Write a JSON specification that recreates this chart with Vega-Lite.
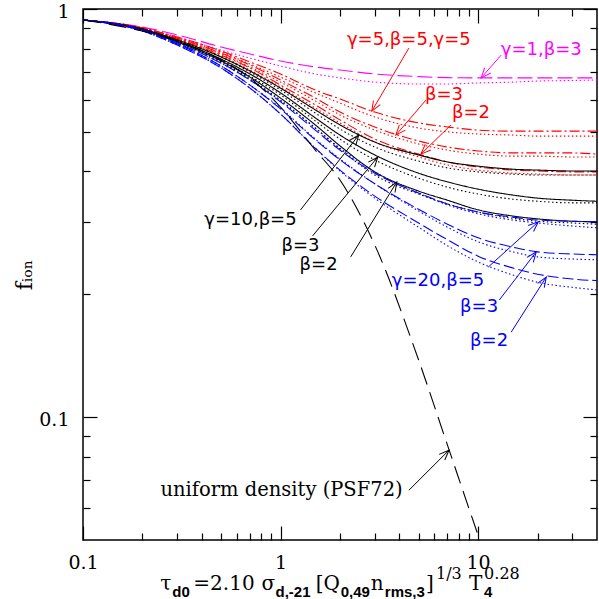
{
"$schema": "https://vega.github.io/schema/vega-lite/v6.json",
"width": 514, "height": 531,
"autosize": {"type": "none"},
"padding": {"left": 83, "top": 9, "right": 2, "bottom": 59},
"background": "white",
"view": {"stroke": "black", "strokeWidth": 1.5},
"config": {"axis": {"grid": false, "domain": false, "tickColor": "black", "tickWidth": 1.2, "labelColor": "black", "labelFont": "DejaVu Serif", "labelFontSize": 19, "labelFlush": false, "titleColor": "black"}},
"datasets": {
"curves": [
{"c":"g1a","g":"g1","t":0.1,"f":0.940},{"c":"g1a","g":"g1","t":0.2,"f":0.903},{"c":"g1a","g":"g1","t":0.3,"f":0.864},{"c":"g1a","g":"g1","t":0.5,"f":0.807},{"c":"g1a","g":"g1","t":0.7,"f":0.776},{"c":"g1a","g":"g1","t":1,"f":0.746},{"c":"g1a","g":"g1","t":1.5,"f":0.721},{"c":"g1a","g":"g1","t":2,"f":0.709},{"c":"g1a","g":"g1","t":3,"f":0.693},{"c":"g1a","g":"g1","t":5,"f":0.683},{"c":"g1a","g":"g1","t":7,"f":0.679},{"c":"g1a","g":"g1","t":10,"f":0.678},{"c":"g1a","g":"g1","t":15,"f":0.678},{"c":"g1a","g":"g1","t":20,"f":0.678},{"c":"g1a","g":"g1","t":30,"f":0.678},{"c":"g1a","g":"g1","t":40,"f":0.678},
{"c":"g1b","g":"g1","t":0.1,"f":0.940},{"c":"g1b","g":"g1","t":0.2,"f":0.898},{"c":"g1b","g":"g1","t":0.3,"f":0.854},{"c":"g1b","g":"g1","t":0.5,"f":0.793},{"c":"g1b","g":"g1","t":0.7,"f":0.758},{"c":"g1b","g":"g1","t":1,"f":0.725},{"c":"g1b","g":"g1","t":1.5,"f":0.693},{"c":"g1b","g":"g1","t":2,"f":0.678},{"c":"g1b","g":"g1","t":3,"f":0.662},{"c":"g1b","g":"g1","t":5,"f":0.655},{"c":"g1b","g":"g1","t":7,"f":0.655},{"c":"g1b","g":"g1","t":10,"f":0.659},{"c":"g1b","g":"g1","t":15,"f":0.662},{"c":"g1b","g":"g1","t":20,"f":0.666},{"c":"g1b","g":"g1","t":30,"f":0.668},{"c":"g1b","g":"g1","t":40,"f":0.670},
{"c":"g5b5a","g":"g5","t":0.1,"f":0.940},{"c":"g5b5a","g":"g5","t":0.2,"f":0.898},{"c":"g5b5a","g":"g5","t":0.3,"f":0.854},{"c":"g5b5a","g":"g5","t":0.5,"f":0.789},{"c":"g5b5a","g":"g5","t":0.7,"f":0.742},{"c":"g5b5a","g":"g5","t":1,"f":0.693},{"c":"g5b5a","g":"g5","t":1.5,"f":0.633},{"c":"g5b5a","g":"g5","t":2,"f":0.602},{"c":"g5b5a","g":"g5","t":3,"f":0.559},{"c":"g5b5a","g":"g5","t":5,"f":0.526},{"c":"g5b5a","g":"g5","t":7,"f":0.514},{"c":"g5b5a","g":"g5","t":10,"f":0.505},{"c":"g5b5a","g":"g5","t":15,"f":0.502},{"c":"g5b5a","g":"g5","t":20,"f":0.502},{"c":"g5b5a","g":"g5","t":30,"f":0.502},{"c":"g5b5a","g":"g5","t":40,"f":0.502},
{"c":"g5b5b","g":"g5","t":0.1,"f":0.940},{"c":"g5b5b","g":"g5","t":0.2,"f":0.898},{"c":"g5b5b","g":"g5","t":0.3,"f":0.849},{"c":"g5b5b","g":"g5","t":0.5,"f":0.785},{"c":"g5b5b","g":"g5","t":0.7,"f":0.733},{"c":"g5b5b","g":"g5","t":1,"f":0.681},{"c":"g5b5b","g":"g5","t":1.5,"f":0.623},{"c":"g5b5b","g":"g5","t":2,"f":0.588},{"c":"g5b5b","g":"g5","t":3,"f":0.544},{"c":"g5b5b","g":"g5","t":5,"f":0.511},{"c":"g5b5b","g":"g5","t":7,"f":0.500},{"c":"g5b5b","g":"g5","t":10,"f":0.494},{"c":"g5b5b","g":"g5","t":15,"f":0.491},{"c":"g5b5b","g":"g5","t":20,"f":0.488},{"c":"g5b5b","g":"g5","t":30,"f":0.488},{"c":"g5b5b","g":"g5","t":40,"f":0.488},
{"c":"g5b3a","g":"g5","t":0.1,"f":0.940},{"c":"g5b3a","g":"g5","t":0.2,"f":0.898},{"c":"g5b3a","g":"g5","t":0.3,"f":0.849},{"c":"g5b3a","g":"g5","t":0.5,"f":0.780},{"c":"g5b3a","g":"g5","t":0.7,"f":0.729},{"c":"g5b3a","g":"g5","t":1,"f":0.670},{"c":"g5b3a","g":"g5","t":1.5,"f":0.605},{"c":"g5b3a","g":"g5","t":2,"f":0.559},{"c":"g5b3a","g":"g5","t":3,"f":0.514},{"c":"g5b3a","g":"g5","t":5,"f":0.475},{"c":"g5b3a","g":"g5","t":7,"f":0.459},{"c":"g5b3a","g":"g5","t":10,"f":0.449},{"c":"g5b3a","g":"g5","t":15,"f":0.444},{"c":"g5b3a","g":"g5","t":20,"f":0.444},{"c":"g5b3a","g":"g5","t":30,"f":0.444},{"c":"g5b3a","g":"g5","t":40,"f":0.441},
{"c":"g5b3b","g":"g5","t":0.1,"f":0.940},{"c":"g5b3b","g":"g5","t":0.2,"f":0.898},{"c":"g5b3b","g":"g5","t":0.3,"f":0.844},{"c":"g5b3b","g":"g5","t":0.5,"f":0.776},{"c":"g5b3b","g":"g5","t":0.7,"f":0.721},{"c":"g5b3b","g":"g5","t":1,"f":0.662},{"c":"g5b3b","g":"g5","t":1.5,"f":0.595},{"c":"g5b3b","g":"g5","t":2,"f":0.550},{"c":"g5b3b","g":"g5","t":3,"f":0.505},{"c":"g5b3b","g":"g5","t":5,"f":0.467},{"c":"g5b3b","g":"g5","t":7,"f":0.451},{"c":"g5b3b","g":"g5","t":10,"f":0.441},{"c":"g5b3b","g":"g5","t":15,"f":0.436},{"c":"g5b3b","g":"g5","t":20,"f":0.436},{"c":"g5b3b","g":"g5","t":30,"f":0.434},{"c":"g5b3b","g":"g5","t":40,"f":0.434},
{"c":"g5b2a","g":"g5","t":0.1,"f":0.940},{"c":"g5b2a","g":"g5","t":0.2,"f":0.893},{"c":"g5b2a","g":"g5","t":0.3,"f":0.844},{"c":"g5b2a","g":"g5","t":0.5,"f":0.771},{"c":"g5b2a","g":"g5","t":0.7,"f":0.717},{"c":"g5b2a","g":"g5","t":1,"f":0.651},{"c":"g5b2a","g":"g5","t":1.5,"f":0.582},{"c":"g5b2a","g":"g5","t":2,"f":0.535},{"c":"g5b2a","g":"g5","t":3,"f":0.480},{"c":"g5b2a","g":"g5","t":5,"f":0.441},{"c":"g5b2a","g":"g5","t":7,"f":0.422},{"c":"g5b2a","g":"g5","t":10,"f":0.410},{"c":"g5b2a","g":"g5","t":15,"f":0.403},{"c":"g5b2a","g":"g5","t":20,"f":0.401},{"c":"g5b2a","g":"g5","t":30,"f":0.399},{"c":"g5b2a","g":"g5","t":40,"f":0.399},
{"c":"g5b2b","g":"g5","t":0.1,"f":0.940},{"c":"g5b2b","g":"g5","t":0.2,"f":0.893},{"c":"g5b2b","g":"g5","t":0.3,"f":0.840},{"c":"g5b2b","g":"g5","t":0.5,"f":0.767},{"c":"g5b2b","g":"g5","t":0.7,"f":0.709},{"c":"g5b2b","g":"g5","t":1,"f":0.644},{"c":"g5b2b","g":"g5","t":1.5,"f":0.572},{"c":"g5b2b","g":"g5","t":2,"f":0.526},{"c":"g5b2b","g":"g5","t":3,"f":0.472},{"c":"g5b2b","g":"g5","t":5,"f":0.434},{"c":"g5b2b","g":"g5","t":7,"f":0.415},{"c":"g5b2b","g":"g5","t":10,"f":0.403},{"c":"g5b2b","g":"g5","t":15,"f":0.396},{"c":"g5b2b","g":"g5","t":20,"f":0.394},{"c":"g5b2b","g":"g5","t":30,"f":0.392},{"c":"g5b2b","g":"g5","t":40,"f":0.392},
{"c":"g10b5a","g":"g10","t":0.1,"f":0.940},{"c":"g10b5a","g":"g10","t":0.2,"f":0.893},{"c":"g10b5a","g":"g10","t":0.3,"f":0.840},{"c":"g10b5a","g":"g10","t":0.5,"f":0.763},{"c":"g10b5a","g":"g10","t":0.7,"f":0.705},{"c":"g10b5a","g":"g10","t":1,"f":0.640},{"c":"g10b5a","g":"g10","t":1.5,"f":0.566},{"c":"g10b5a","g":"g10","t":2,"f":0.520},{"c":"g10b5a","g":"g10","t":3,"f":0.472},{"c":"g10b5a","g":"g10","t":5,"f":0.439},{"c":"g10b5a","g":"g10","t":7,"f":0.422},{"c":"g10b5a","g":"g10","t":10,"f":0.412},{"c":"g10b5a","g":"g10","t":15,"f":0.405},{"c":"g10b5a","g":"g10","t":20,"f":0.403},{"c":"g10b5a","g":"g10","t":30,"f":0.401},{"c":"g10b5a","g":"g10","t":40,"f":0.401},
{"c":"g10b5b","g":"g10","t":0.1,"f":0.940},{"c":"g10b5b","g":"g10","t":0.2,"f":0.893},{"c":"g10b5b","g":"g10","t":0.3,"f":0.840},{"c":"g10b5b","g":"g10","t":0.5,"f":0.763},{"c":"g10b5b","g":"g10","t":0.7,"f":0.701},{"c":"g10b5b","g":"g10","t":1,"f":0.633},{"c":"g10b5b","g":"g10","t":1.5,"f":0.556},{"c":"g10b5b","g":"g10","t":2,"f":0.508},{"c":"g10b5b","g":"g10","t":3,"f":0.459},{"c":"g10b5b","g":"g10","t":5,"f":0.424},{"c":"g10b5b","g":"g10","t":7,"f":0.408},{"c":"g10b5b","g":"g10","t":10,"f":0.399},{"c":"g10b5b","g":"g10","t":15,"f":0.394},{"c":"g10b5b","g":"g10","t":20,"f":0.392},{"c":"g10b5b","g":"g10","t":30,"f":0.392},{"c":"g10b5b","g":"g10","t":40,"f":0.392},
{"c":"g10b3a","g":"g10","t":0.1,"f":0.940},{"c":"g10b3a","g":"g10","t":0.2,"f":0.893},{"c":"g10b3a","g":"g10","t":0.3,"f":0.835},{"c":"g10b3a","g":"g10","t":0.5,"f":0.754},{"c":"g10b3a","g":"g10","t":0.7,"f":0.693},{"c":"g10b3a","g":"g10","t":1,"f":0.623},{"c":"g10b3a","g":"g10","t":1.5,"f":0.541},{"c":"g10b3a","g":"g10","t":2,"f":0.491},{"c":"g10b3a","g":"g10","t":3,"f":0.439},{"c":"g10b3a","g":"g10","t":5,"f":0.396},{"c":"g10b3a","g":"g10","t":7,"f":0.377},{"c":"g10b3a","g":"g10","t":10,"f":0.362},{"c":"g10b3a","g":"g10","t":15,"f":0.350},{"c":"g10b3a","g":"g10","t":20,"f":0.344},{"c":"g10b3a","g":"g10","t":30,"f":0.340},{"c":"g10b3a","g":"g10","t":40,"f":0.338},
{"c":"g10b3b","g":"g10","t":0.1,"f":0.940},{"c":"g10b3b","g":"g10","t":0.2,"f":0.893},{"c":"g10b3b","g":"g10","t":0.3,"f":0.835},{"c":"g10b3b","g":"g10","t":0.5,"f":0.750},{"c":"g10b3b","g":"g10","t":0.7,"f":0.685},{"c":"g10b3b","g":"g10","t":1,"f":0.616},{"c":"g10b3b","g":"g10","t":1.5,"f":0.532},{"c":"g10b3b","g":"g10","t":2,"f":0.480},{"c":"g10b3b","g":"g10","t":3,"f":0.427},{"c":"g10b3b","g":"g10","t":5,"f":0.385},{"c":"g10b3b","g":"g10","t":7,"f":0.366},{"c":"g10b3b","g":"g10","t":10,"f":0.352},{"c":"g10b3b","g":"g10","t":15,"f":0.342},{"c":"g10b3b","g":"g10","t":20,"f":0.338},{"c":"g10b3b","g":"g10","t":30,"f":0.335},{"c":"g10b3b","g":"g10","t":40,"f":0.335},
{"c":"g10b2a","g":"g10","t":0.1,"f":0.940},{"c":"g10b2a","g":"g10","t":0.2,"f":0.888},{"c":"g10b2a","g":"g10","t":0.3,"f":0.830},{"c":"g10b2a","g":"g10","t":0.5,"f":0.746},{"c":"g10b2a","g":"g10","t":0.7,"f":0.681},{"c":"g10b2a","g":"g10","t":1,"f":0.605},{"c":"g10b2a","g":"g10","t":1.5,"f":0.520},{"c":"g10b2a","g":"g10","t":2,"f":0.462},{"c":"g10b2a","g":"g10","t":3,"f":0.399},{"c":"g10b2a","g":"g10","t":5,"f":0.358},{"c":"g10b2a","g":"g10","t":7,"f":0.340},{"c":"g10b2a","g":"g10","t":10,"f":0.322},{"c":"g10b2a","g":"g10","t":15,"f":0.311},{"c":"g10b2a","g":"g10","t":20,"f":0.306},{"c":"g10b2a","g":"g10","t":30,"f":0.302},{"c":"g10b2a","g":"g10","t":40,"f":0.301},
{"c":"g10b2b","g":"g10","t":0.1,"f":0.940},{"c":"g10b2b","g":"g10","t":0.2,"f":0.888},{"c":"g10b2b","g":"g10","t":0.3,"f":0.830},{"c":"g10b2b","g":"g10","t":0.5,"f":0.742},{"c":"g10b2b","g":"g10","t":0.7,"f":0.674},{"c":"g10b2b","g":"g10","t":1,"f":0.598},{"c":"g10b2b","g":"g10","t":1.5,"f":0.511},{"c":"g10b2b","g":"g10","t":2,"f":0.454},{"c":"g10b2b","g":"g10","t":3,"f":0.392},{"c":"g10b2b","g":"g10","t":5,"f":0.352},{"c":"g10b2b","g":"g10","t":7,"f":0.333},{"c":"g10b2b","g":"g10","t":10,"f":0.318},{"c":"g10b2b","g":"g10","t":15,"f":0.307},{"c":"g10b2b","g":"g10","t":20,"f":0.302},{"c":"g10b2b","g":"g10","t":30,"f":0.299},{"c":"g10b2b","g":"g10","t":40,"f":0.297},
{"c":"g20b5a","g":"g20","t":0.1,"f":0.940},{"c":"g20b5a","g":"g20","t":0.2,"f":0.888},{"c":"g20b5a","g":"g20","t":0.3,"f":0.825},{"c":"g20b5a","g":"g20","t":0.5,"f":0.737},{"c":"g20b5a","g":"g20","t":0.7,"f":0.670},{"c":"g20b5a","g":"g20","t":1,"f":0.592},{"c":"g20b5a","g":"g20","t":1.5,"f":0.505},{"c":"g20b5a","g":"g20","t":2,"f":0.451},{"c":"g20b5a","g":"g20","t":3,"f":0.396},{"c":"g20b5a","g":"g20","t":5,"f":0.354},{"c":"g20b5a","g":"g20","t":7,"f":0.333},{"c":"g20b5a","g":"g20","t":10,"f":0.318},{"c":"g20b5a","g":"g20","t":15,"f":0.309},{"c":"g20b5a","g":"g20","t":20,"f":0.304},{"c":"g20b5a","g":"g20","t":30,"f":0.302},{"c":"g20b5a","g":"g20","t":40,"f":0.301},
{"c":"g20b5b","g":"g20","t":0.1,"f":0.940},{"c":"g20b5b","g":"g20","t":0.2,"f":0.888},{"c":"g20b5b","g":"g20","t":0.3,"f":0.825},{"c":"g20b5b","g":"g20","t":0.5,"f":0.737},{"c":"g20b5b","g":"g20","t":0.7,"f":0.670},{"c":"g20b5b","g":"g20","t":1,"f":0.595},{"c":"g20b5b","g":"g20","t":1.5,"f":0.511},{"c":"g20b5b","g":"g20","t":2,"f":0.456},{"c":"g20b5b","g":"g20","t":3,"f":0.399},{"c":"g20b5b","g":"g20","t":5,"f":0.354},{"c":"g20b5b","g":"g20","t":7,"f":0.331},{"c":"g20b5b","g":"g20","t":10,"f":0.315},{"c":"g20b5b","g":"g20","t":15,"f":0.304},{"c":"g20b5b","g":"g20","t":20,"f":0.299},{"c":"g20b5b","g":"g20","t":30,"f":0.294},{"c":"g20b5b","g":"g20","t":40,"f":0.291},
{"c":"g20b3a","g":"g20","t":0.1,"f":0.940},{"c":"g20b3a","g":"g20","t":0.2,"f":0.888},{"c":"g20b3a","g":"g20","t":0.3,"f":0.821},{"c":"g20b3a","g":"g20","t":0.5,"f":0.725},{"c":"g20b3a","g":"g20","t":0.7,"f":0.651},{"c":"g20b3a","g":"g20","t":1,"f":0.569},{"c":"g20b3a","g":"g20","t":1.5,"f":0.478},{"c":"g20b3a","g":"g20","t":2,"f":0.427},{"c":"g20b3a","g":"g20","t":3,"f":0.373},{"c":"g20b3a","g":"g20","t":5,"f":0.323},{"c":"g20b3a","g":"g20","t":7,"f":0.297},{"c":"g20b3a","g":"g20","t":10,"f":0.275},{"c":"g20b3a","g":"g20","t":15,"f":0.261},{"c":"g20b3a","g":"g20","t":20,"f":0.254},{"c":"g20b3a","g":"g20","t":30,"f":0.251},{"c":"g20b3a","g":"g20","t":40,"f":0.250},
{"c":"g20b3b","g":"g20","t":0.1,"f":0.940},{"c":"g20b3b","g":"g20","t":0.2,"f":0.888},{"c":"g20b3b","g":"g20","t":0.3,"f":0.821},{"c":"g20b3b","g":"g20","t":0.5,"f":0.725},{"c":"g20b3b","g":"g20","t":0.7,"f":0.651},{"c":"g20b3b","g":"g20","t":1,"f":0.572},{"c":"g20b3b","g":"g20","t":1.5,"f":0.480},{"c":"g20b3b","g":"g20","t":2,"f":0.429},{"c":"g20b3b","g":"g20","t":3,"f":0.373},{"c":"g20b3b","g":"g20","t":5,"f":0.320},{"c":"g20b3b","g":"g20","t":7,"f":0.292},{"c":"g20b3b","g":"g20","t":10,"f":0.269},{"c":"g20b3b","g":"g20","t":15,"f":0.254},{"c":"g20b3b","g":"g20","t":20,"f":0.247},{"c":"g20b3b","g":"g20","t":30,"f":0.244},{"c":"g20b3b","g":"g20","t":40,"f":0.243},
{"c":"g20b2a","g":"g20","t":0.1,"f":0.940},{"c":"g20b2a","g":"g20","t":0.2,"f":0.883},{"c":"g20b2a","g":"g20","t":0.3,"f":0.816},{"c":"g20b2a","g":"g20","t":0.5,"f":0.717},{"c":"g20b2a","g":"g20","t":0.7,"f":0.640},{"c":"g20b2a","g":"g20","t":1,"f":0.553},{"c":"g20b2a","g":"g20","t":1.5,"f":0.456},{"c":"g20b2a","g":"g20","t":2,"f":0.403},{"c":"g20b2a","g":"g20","t":3,"f":0.348},{"c":"g20b2a","g":"g20","t":5,"f":0.299},{"c":"g20b2a","g":"g20","t":7,"f":0.272},{"c":"g20b2a","g":"g20","t":10,"f":0.248},{"c":"g20b2a","g":"g20","t":15,"f":0.232},{"c":"g20b2a","g":"g20","t":20,"f":0.224},{"c":"g20b2a","g":"g20","t":30,"f":0.218},{"c":"g20b2a","g":"g20","t":40,"f":0.216},
{"c":"g20b2b","g":"g20","t":0.1,"f":0.940},{"c":"g20b2b","g":"g20","t":0.2,"f":0.883},{"c":"g20b2b","g":"g20","t":0.3,"f":0.816},{"c":"g20b2b","g":"g20","t":0.5,"f":0.717},{"c":"g20b2b","g":"g20","t":0.7,"f":0.640},{"c":"g20b2b","g":"g20","t":1,"f":0.553},{"c":"g20b2b","g":"g20","t":1.5,"f":0.456},{"c":"g20b2b","g":"g20","t":2,"f":0.401},{"c":"g20b2b","g":"g20","t":3,"f":0.344},{"c":"g20b2b","g":"g20","t":5,"f":0.292},{"c":"g20b2b","g":"g20","t":7,"f":0.263},{"c":"g20b2b","g":"g20","t":10,"f":0.240},{"c":"g20b2b","g":"g20","t":15,"f":0.223},{"c":"g20b2b","g":"g20","t":20,"f":0.214},{"c":"g20b2b","g":"g20","t":30,"f":0.208},{"c":"g20b2b","g":"g20","t":40,"f":0.205},
{"c":"unif","g":"unif","t":0.1,"f":0.940},{"c":"unif","g":"unif","t":0.2,"f":0.883},{"c":"unif","g":"unif","t":0.3,"f":0.835},{"c":"unif","g":"unif","t":0.5,"f":0.750},{"c":"unif","g":"unif","t":0.7,"f":0.678},{"c":"unif","g":"unif","t":1,"f":0.575},{"c":"unif","g":"unif","t":1.5,"f":0.451},{"c":"unif","g":"unif","t":2,"f":0.381},{"c":"unif","g":"unif","t":3,"f":0.264},{"c":"unif","g":"unif","t":5,"f":0.138},{"c":"unif","g":"unif","t":7,"f":0.0854},{"c":"unif","g":"unif","t":10,"f":0.0514},{"c":"unif","g":"unif","t":12,"f":0.0399}
],
"arrows": [
{"g":"g1","t1":13.09,"f1":0.771,"t2":10.36,"f2":0.678},
{"g":"g5","t1":4.464,"f1":0.802,"t2":2.897,"f2":0.562},
{"g":"g5","t1":5.445,"f1":0.598,"t2":3.835,"f2":0.491},
{"g":"g5","t1":7.294,"f1":0.520,"t2":5.136,"f2":0.441},
{"g":"g10","t1":1.263,"f1":0.322,"t2":2.488,"f2":0.491},
{"g":"g10","t1":1.453,"f1":0.278,"t2":3.108,"f2":0.434},
{"g":"g10","t1":2.266,"f1":0.247,"t2":3.880,"f2":0.377},
{"g":"g20","t1":11.24,"f1":0.233,"t2":20.17,"f2":0.301},
{"g":"g20","t1":12.79,"f1":0.1935,"t2":19.70,"f2":0.254},
{"g":"g20","t1":14.71,"f1":0.1615,"t2":22.14,"f2":0.2204},
{"g":"unif","t1":4.464,"f1":0.0662,"t2":7.126,"f2":0.0830}
],
"labels": [
{"g":"g5","s":"γ=5,β=5,γ=5","t":4.464,"f":0.840},
{"g":"g1","s":"γ=1,β=3","t":20.88,"f":0.793},
{"g":"g5","s":"β=3","t":6.722,"f":0.616},
{"g":"g5","s":"β=2","t":9.215,"f":0.556},
{"g":"g10","s":"γ=10,β=5","t":0.7043,"f":0.304},
{"g":"g10","s":"β=3","t":1.263,"f":0.263},
{"g":"g10","s":"β=2","t":1.559,"f":0.2358},
{"g":"g20","s":"γ=20,β=5","t":6.266,"f":0.216},
{"g":"g20","s":"β=3","t":10.12,"f":0.1861},
{"g":"g20","s":"β=2","t":11.37,"f":0.1536}
],
"unifLabel": [{"s":"uniform density (PSF72)","t":1.012,"f":0.0662}],
"titleMain": [{"s":"τ","t":0.2460},{"s":"=2.10","t":0.3618},{"s":"σ","t":0.8010},{"s":"[Q","t":1.506},{"s":"n","t":2.863},{"s":"]","t":5.445},{"s":"T","t":9.000}],
"titleSub": [{"s":"d0","t":0.2830},{"s":"d,-21","t":0.9432},{"s":"0,49","t":2.017},{"s":"rms,3","t":3.373},{"s":"4","t":10.73}],
"titleSup": [{"s":"1/3","t":6.120},{"s":"0.28","t":10.73}]
},
"resolve": {"axis": {"x": "independent", "y": "independent"}},
"layer": [
{"data": {"name": "curves"},
 "mark": {"type": "line", "clip": true, "strokeWidth": 1.1, "interpolate": "monotone"},
 "encoding": {
  "x": {"field": "t", "type": "quantitative", "scale": {"type": "log", "domain": [0.1, 40], "nice": false}, "axis": {"orient": "bottom", "values": [0.1, 1, 10], "format": "~g", "tickSize": -14, "labelPadding": 27, "title": null}},
  "y": {"field": "f", "type": "quantitative", "scale": {"type": "log", "domain": [0.05, 1], "nice": false}, "axis": {"orient": "left", "values": [0.1, 1], "format": "~g", "tickSize": -14, "labelPadding": 28, "labelOffset": 2, "title": "fᵢₒₙ", "titleFont": "DejaVu Serif", "titleFontSize": 22, "titleFontWeight": "normal", "titlePadding": 2}},
  "color": {"field": "g", "type": "nominal", "scale": {"domain": ["g1","g5","g10","g20","unif"], "range": ["#ff00ff","#ff0000","#000000","#0000ff","#000000"]}, "legend": null},
  "strokeDash": {"field": "c", "type": "nominal", "scale": {"domain": ["g1a","g1b","g5b5a","g5b5b","g5b3a","g5b3b","g5b2a","g5b2b","g10b5a","g10b5b","g10b3a","g10b3b","g10b2a","g10b2b","g20b5a","g20b5b","g20b3a","g20b3b","g20b2a","g20b2b","unif"], "range": [[15,5],[1.5,2.5],[10,3,2,3],[1.5,2.5],[10,3,2,3],[1.5,2.5],[10,3,2,3],[1.5,2.5],[1,0],[1.5,2.5],[1,0],[1.5,2.5],[1,0],[1.5,2.5],[11,4],[1.5,2.5],[11,4],[1.5,2.5],[11,4],[1.5,2.5],[18,8]]}, "legend": null}
 }},
{"data": {"name": "arrows"},
 "mark": {"type": "rule", "strokeWidth": 1},
 "encoding": {
  "x": {"field": "t1", "type": "quantitative", "axis": {"orient": "bottom", "values": [0.2,0.3,0.4,0.5,0.6,0.7,0.8,0.9,2,3,4,5,6,7,8,9,20,30], "tickSize": -7, "labels": false, "title": null}},
  "y": {"field": "f1", "type": "quantitative", "axis": {"orient": "left", "values": [0.06,0.07,0.08,0.09,0.2,0.3,0.4,0.5,0.6,0.7,0.8,0.9], "tickSize": -7, "labels": false, "title": null}},
  "x2": {"field": "t2"}, "y2": {"field": "f2"},
  "color": {"field": "g", "type": "nominal", "legend": null}
 }},
{"data": {"name": "arrows"},
 "transform": [{"calculate": "atan2(197.5*log(datum.t2/datum.t1), 408*log(datum.f2/datum.f1))*180/PI", "as": "ang"}],
 "mark": {"type": "point", "shape": "M-0.4,1L0,0L0.4,1", "filled": false, "size": 400, "strokeWidth": 1, "opacity": 1},
 "encoding": {
  "x": {"field": "t2", "type": "quantitative", "axis": {"orient": "top", "values": [0.1, 1, 10], "tickSize": -14, "labels": false, "title": null}},
  "y": {"field": "f2", "type": "quantitative", "axis": {"orient": "right", "values": [0.1, 1], "tickSize": -14, "labels": false, "title": null}},
  "angle": {"field": "ang", "type": "quantitative", "scale": null},
  "color": {"field": "g", "type": "nominal", "legend": null}
 }},
{"data": {"name": "labels"},
 "mark": {"type": "text", "font": "DejaVu Sans", "fontSize": 18, "align": "center", "baseline": "middle"},
 "encoding": {
  "x": {"field": "t", "type": "quantitative", "axis": {"orient": "top", "values": [0.2,0.3,0.4,0.5,0.6,0.7,0.8,0.9,2,3,4,5,6,7,8,9,20,30], "tickSize": -7, "labels": false, "title": null}},
  "y": {"field": "f", "type": "quantitative", "axis": {"orient": "right", "values": [0.06,0.07,0.08,0.09,0.2,0.3,0.4,0.5,0.6,0.7,0.8,0.9], "tickSize": -7, "labels": false, "title": null}},
  "text": {"field": "s"},
  "color": {"field": "g", "type": "nominal", "legend": null}
 }},
{"data": {"name": "unifLabel"},
 "mark": {"type": "text", "font": "DejaVu Serif", "fontSize": 19.5, "align": "center", "baseline": "middle", "color": "black"},
 "encoding": {
  "x": {"field": "t", "type": "quantitative", "axis": null},
  "y": {"field": "f", "type": "quantitative", "axis": null},
  "text": {"field": "s"}
 }},
{"data": {"name": "titleMain"},
 "mark": {"type": "text", "font": "DejaVu Serif", "fontSize": 20, "align": "left", "baseline": "alphabetic", "color": "black"},
 "encoding": {
  "x": {"field": "t", "type": "quantitative", "axis": null},
  "y": {"datum": 0.0377, "type": "quantitative", "axis": null},
  "text": {"field": "s"}
 }},
{"data": {"name": "titleSub"},
 "mark": {"type": "text", "font": "Liberation Sans", "fontSize": 15, "fontWeight": "bold", "align": "left", "baseline": "alphabetic", "color": "black"},
 "encoding": {
  "x": {"field": "t", "type": "quantitative", "axis": null},
  "y": {"datum": 0.0362, "type": "quantitative", "axis": null},
  "text": {"field": "s"}
 }},
{"data": {"name": "titleSup"},
 "mark": {"type": "text", "font": "DejaVu Serif", "fontSize": 16, "align": "left", "baseline": "alphabetic", "color": "black"},
 "encoding": {
  "x": {"field": "t", "type": "quantitative", "axis": null},
  "y": {"datum": 0.04007, "type": "quantitative", "axis": null},
  "text": {"field": "s"}
 }}
]
}
